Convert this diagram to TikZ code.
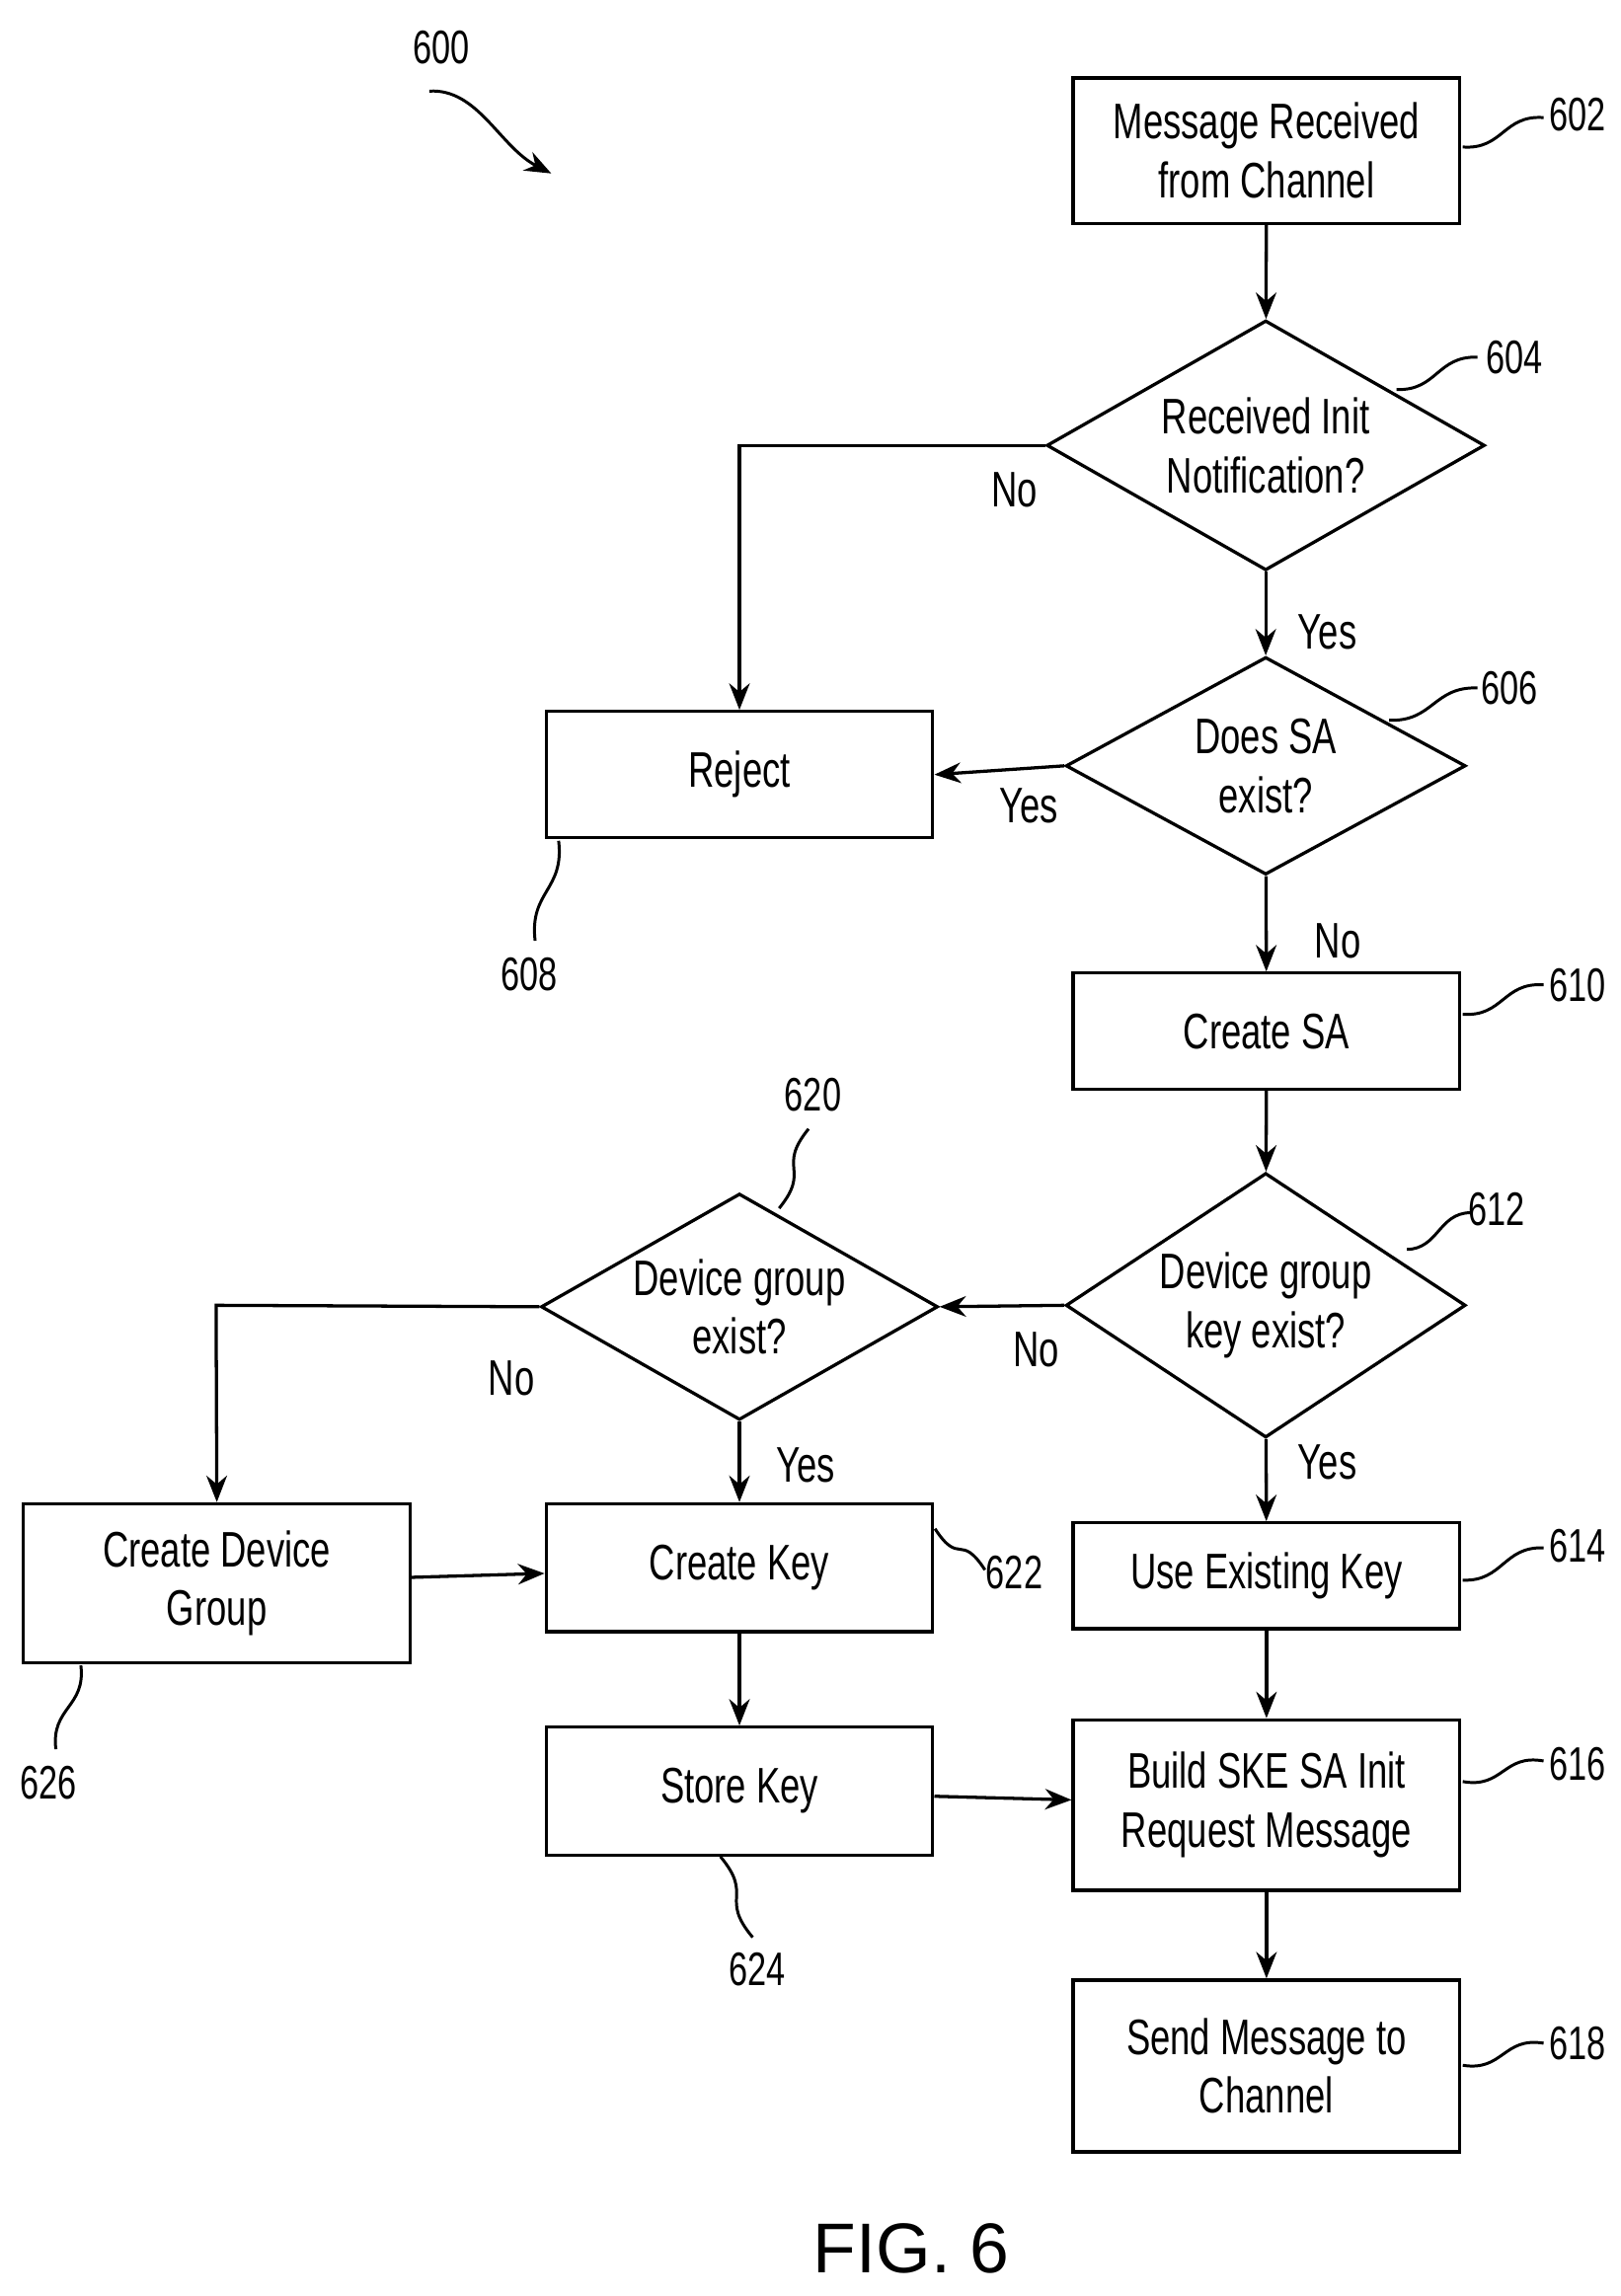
\documentclass[tikz,border=0pt]{standalone}
\usepackage{fontspec}
\setmainfont[FakeStretch=0.72]{Liberation Sans}
\newfontfamily\figfont{Liberation Sans}
\usetikzlibrary{shapes.geometric,arrows.meta,calc}
\begin{document}
\begin{tikzpicture}[x=0.5pt,y=-0.5pt,
 font=\fontsize{17}{20}\selectfont,
 box/.style={draw,line width=1.1pt,minimum width=131.5pt,align=center,inner sep=0pt},
 dia/.style={draw,line width=1.1pt,diamond,aspect=1.75,inner sep=0pt,align=center},
 ar/.style={line width=1.1pt,-{Stealth[length=9pt,width=7pt]}},
 ld/.style={line width=1pt},
 num/.style={font=\fontsize{16}{18}\selectfont}]
\useasboundingbox (0,0) rectangle (1102,1562);
\node[box,minimum height=49.5pt] (n602) at (861.5,102.5) {Message Received\\from Channel};
\node[dia,minimum width=149pt,minimum height=85pt] (n604) at (861,303) {Received Init\\Notification?};
\node[dia,minimum width=136pt,minimum height=74pt] (n606) at (861,521) {Does SA\\exist?};
\node[box,minimum height=43pt] (n608) at (503,527) {Reject};
\node[box,minimum height=39.5pt] (n610) at (861.5,701.5) {Create SA};
\node[dia,minimum width=136pt,minimum height=90pt] (n612) at (861,888) {Device group\\key exist?};
\node[dia,minimum width=135pt,minimum height=77pt] (n620) at (503,889) {Device group\\exist?};
\node[box,minimum height=54pt] (n626) at (147.5,1077) {Create Device\\Group};
\node[box,minimum height=43.5pt] (n622) at (503,1066.5) {Create Key};
\node[box,minimum height=36pt] (n614) at (861.5,1072) {Use Existing Key};
\node[box,minimum height=43.5pt] (n624) at (503,1218.5) {Store Key};
\node[box,minimum height=58pt] (n616) at (861.5,1228) {Build SKE SA Init\\Request Message};
\node[box,minimum height=58.5pt] (n618) at (861.5,1405.5) {Send Message to\\Channel};
\coordinate (c1) at (503,303);
\coordinate (c2) at (147,888);
\draw[ar] (n602) -- (n604);
\draw[ar] (n604.west) -- (c1) -- (n608.north);
\draw[ar] (n604) -- (n606);
\draw[ar] (n606.west) -- (n608.east);
\draw[ar] (n606) -- (n610);
\draw[ar] (n610) -- (n612);
\draw[ar] (n612.west) -- (n620.east);
\draw[ar] (n612) -- (n614);
\draw[ar] (n620.west) -- (c2) -- (n626.north);
\draw[ar] (n620) -- (n622);
\draw[ar] (n626) -- (n622);
\draw[ar] (n622) -- (n624);
\draw[ar] (n624) -- (n616);
\draw[ar] (n614) -- (n616);
\draw[ar] (n616) -- (n618);
\node (l1) at (690,333) {No};
\node (l2) at (903,430) {Yes};
\node (l3) at (700,548) {Yes};
\node (l4) at (910,640) {No};
\node (l5) at (705,918) {No};
\node (l6) at (903,995) {Yes};
\node (l7) at (348,938) {No};
\node (l8) at (548,997) {Yes};
% leaders
\coordinate (a602) at (995,100); \coordinate (b602) at (1050,80); \node[num] (t602) at (1073,78) {602};
\coordinate (a604) at (950,265); \coordinate (b604) at (1005,243); \node[num] (t604) at (1030,243) {604};
\coordinate (a606) at (945,490); \coordinate (b606) at (1005,468); \node[num] (t606) at (1027,468) {606};
\coordinate (a610) at (995,690); \coordinate (b610) at (1050,670); \node[num] (t610) at (1073,670) {610};
\coordinate (a612) at (957,850); \coordinate (b612) at (1000,825); \node[num] (t612) at (1018,823) {612};
\coordinate (a614) at (995,1075); \coordinate (b614) at (1050,1053); \node[num] (t614) at (1073,1052) {614};
\coordinate (a616) at (995,1212); \coordinate (b616) at (1050,1198); \node[num] (t616) at (1073,1200) {616};
\coordinate (a618) at (995,1405); \coordinate (b618) at (1050,1390); \node[num] (t618) at (1073,1390) {618};
\coordinate (a622) at (636,1040); \coordinate (b622) at (670,1068); \node[num] (t622) at (690,1070) {622};
\foreach \n in {602,604,606,610,612,614,616,618,622}
  \draw[ld] (a\n) .. controls ($(a\n)!0.5!(b\n)+(0,12)$) and ($(a\n)!0.5!(b\n)+(0,-12)$) .. (b\n);
\coordinate (a608) at (380,572); \coordinate (b608) at (364,640); \node[num] (t608) at (360,663) {608};
\coordinate (a620) at (530,822); \coordinate (b620) at (550,768); \node[num] (t620) at (553,745) {620};
\coordinate (a624) at (490,1263); \coordinate (b624) at (512,1318); \node[num] (t624) at (515,1340) {624};
\coordinate (a626) at (55,1133); \coordinate (b626) at (38,1190); \node[num] (t626) at (33,1213) {626};
\foreach \n in {608,620,624,626}
  \draw[ld] (a\n) .. controls ($(a\n)!0.5!(b\n)+(12,0)$) and ($(a\n)!0.5!(b\n)+(-12,0)$) .. (b\n);
\node[num] (t600) at (300,32) {600};
\coordinate (a600) at (292,62); \coordinate (b600) at (375,118);
\draw[ld,-{Stealth[length=9pt,width=7pt]}] (a600) .. controls (325,60) and (340,100) .. (b600);
\node[font=\figfont\fontsize{24}{28}\selectfont] (fig) at (620,1530) {FIG. 6};
\end{tikzpicture}
\end{document}
